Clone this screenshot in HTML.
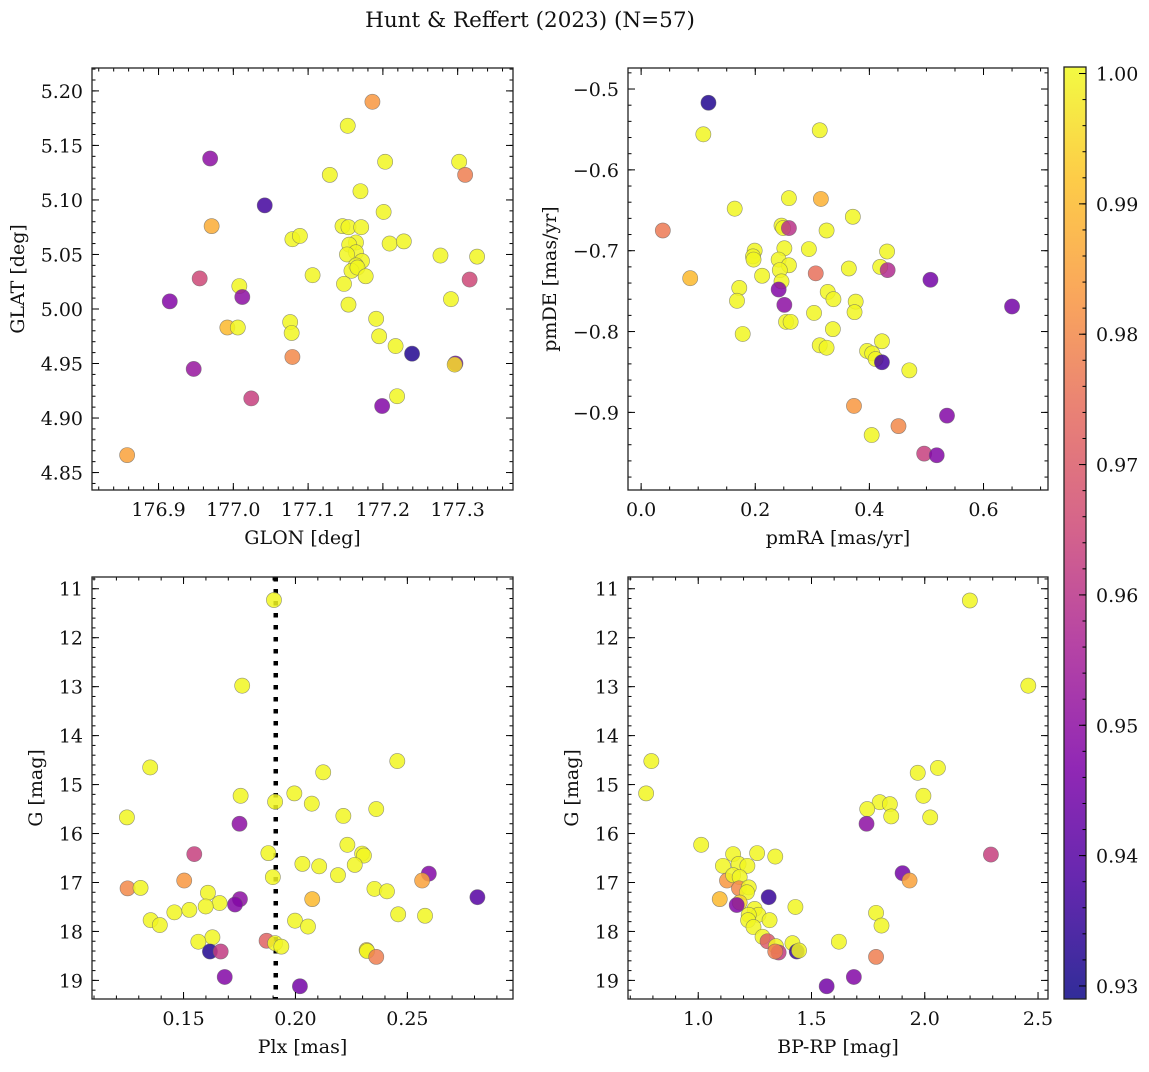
<!DOCTYPE html>
<html><head><meta charset="utf-8"><style>
body{margin:0;background:#fff;}
svg text{font-family:"DejaVu Serif","Liberation Serif",serif;fill:#111;}
</style></head><body>
<svg id="fig" width="1149" height="1067" viewBox="0 0 1149 1067" xmlns="http://www.w3.org/2000/svg">
<defs><linearGradient id="cg" x1="0" y1="1" x2="0" y2="0">
<stop offset="0" stop-color="#0d0887"/><stop offset="0.13" stop-color="#4c02a1"/><stop offset="0.25" stop-color="#7e03a8"/><stop offset="0.38" stop-color="#a92395"/><stop offset="0.5" stop-color="#cc4778"/><stop offset="0.63" stop-color="#e56b5d"/><stop offset="0.75" stop-color="#f89540"/><stop offset="0.88" stop-color="#fdc328"/><stop offset="1" stop-color="#f0f921"/>
</linearGradient></defs>
<text x="530" y="27" font-size="21.5" text-anchor="middle">Hunt &amp; Reffert (2023) (N=57)</text>
</svg>
<script>
// Panel 1: GLON / GLAT
const glon=[177.186,177.153,176.969,177.042,176.971,177.203,177.302,177.310,177.129,177.170,177.201,177.146,177.154,177.171,177.079,177.089,177.164,177.155,177.209,177.228,177.164,177.152,177.172,177.164,177.158,177.166,177.177,177.277,177.326,177.106,176.955,177.148,177.008,177.316,177.012,176.915,177.291,177.154,177.191,177.076,177.078,176.992,177.006,177.195,177.217,177.239,177.297,177.296,177.079,176.947,177.219,177.024,177.199,176.858];
const glat=[5.190,5.168,5.138,5.095,5.076,5.135,5.135,5.123,5.123,5.108,5.089,5.076,5.075,5.075,5.064,5.067,5.061,5.059,5.060,5.062,5.052,5.050,5.044,5.040,5.035,5.038,5.030,5.049,5.048,5.031,5.028,5.023,5.021,5.027,5.011,5.007,5.009,5.004,4.991,4.988,4.978,4.983,4.983,4.975,4.966,4.959,4.950,4.949,4.956,4.945,4.920,4.918,4.911,4.866];
const prob1=[0.983,1,0.95,0.937,0.987,1,1,0.978,1,1,1,1,1,1,1,1,1,1,1,1,1,1,1,1,1,1,1,1,1,1,0.965,1,1,0.965,0.95,0.948,1,1,1,1,1,0.99,1,1,1,0.932,0.945,0.996,0.98,0.952,1,0.963,0.948,0.985];
// Panel 2: pmRA / pmDE
const pmra=[0.118,0.109,0.313,0.164,0.259,0.315,0.038,0.371,0.246,0.249,0.259,0.325,0.199,0.196,0.197,0.251,0.294,0.431,0.241,0.259,0.243,0.364,0.419,0.432,0.306,0.212,0.086,0.507,0.246,0.172,0.241,0.168,0.327,0.337,0.376,0.374,0.251,0.650,0.303,0.254,0.262,0.336,0.178,0.422,0.313,0.325,0.396,0.405,0.411,0.422,0.470,0.373,0.536,0.451,0.404,0.496,0.518];
const pmde=[-0.517,-0.556,-0.551,-0.648,-0.635,-0.636,-0.675,-0.658,-0.669,-0.672,-0.672,-0.675,-0.700,-0.707,-0.711,-0.697,-0.698,-0.701,-0.711,-0.718,-0.724,-0.722,-0.720,-0.724,-0.728,-0.731,-0.734,-0.736,-0.738,-0.746,-0.748,-0.762,-0.751,-0.760,-0.763,-0.776,-0.767,-0.769,-0.777,-0.788,-0.788,-0.797,-0.803,-0.812,-0.817,-0.820,-0.824,-0.827,-0.834,-0.838,-0.848,-0.892,-0.904,-0.917,-0.928,-0.951,-0.953];
const prob2=[0.932,1,1,1,1,0.988,0.977,1,1,1,0.96,1,1,1,1,1,1,1,1,1,1,1,1,0.958,0.975,1,0.99,0.945,1,1,0.948,1,1,1,1,1,0.95,0.945,1,1,1,1,1,1,1,1,1,1,1,0.937,1,0.983,0.948,0.98,1,0.963,0.948];
// Panel 3: Plx / G
const plx=[0.1904,0.1762,0.1351,0.2455,0.2124,0.1755,0.1995,0.1909,0.2073,0.2361,0.1247,0.2214,0.1750,0.2232,0.1879,0.2298,0.2306,0.1548,0.2031,0.2106,0.2265,0.1899,0.2190,0.2596,0.1503,0.2566,0.1250,0.1308,0.2353,0.2409,0.1609,0.2813,0.1752,0.2075,0.1661,0.1730,0.1599,0.1459,0.1526,0.2459,0.2579,0.1353,0.1394,0.1998,0.2056,0.1629,0.1566,0.1871,0.1909,0.1937,0.1618,0.1666,0.2318,0.2320,0.2361,0.1684,0.2020];
const gmag3=[11.23,12.98,14.65,14.52,14.75,15.23,15.18,15.35,15.39,15.50,15.67,15.64,15.80,16.23,16.40,16.41,16.45,16.42,16.62,16.67,16.64,16.89,16.85,16.82,16.96,16.96,17.12,17.11,17.13,17.18,17.21,17.30,17.34,17.34,17.42,17.45,17.49,17.61,17.56,17.65,17.68,17.77,17.87,17.78,17.90,18.12,18.21,18.19,18.24,18.31,18.41,18.41,18.38,18.40,18.52,18.93,19.12];
const prob3=[1,1,1,1,1,1,1,1,1,1,1,1,0.95,1,1,1,1,0.963,1,1,1,1,1,0.948,0.983,0.985,0.98,1,1,1,1,0.94,0.95,0.99,1,0.948,1,1,1,1,1,1,1,1,1,1,1,0.972,1,1,0.932,0.962,0.995,1,0.978,0.948,0.945];
const plxLine=[0.1912];
// Panel 4: BP-RP / G
const bprp=[2.199,2.457,0.793,0.770,2.058,1.969,1.994,1.801,1.846,1.746,2.024,1.852,1.743,1.013,1.154,1.260,1.340,2.292,1.109,1.178,1.217,1.902,1.933,1.127,1.154,1.183,1.180,1.223,1.215,1.311,1.095,1.183,1.170,1.429,1.785,1.249,1.266,1.223,1.220,1.315,1.809,1.244,1.284,1.306,1.621,1.416,1.343,1.435,1.445,1.355,1.340,1.785,1.687,1.567];
const gmag4=[11.24,12.98,14.52,15.18,14.66,14.76,15.23,15.36,15.40,15.50,15.67,15.65,15.80,16.23,16.42,16.40,16.47,16.43,16.66,16.62,16.66,16.81,16.96,16.96,16.85,16.89,17.12,17.10,17.20,17.30,17.34,17.41,17.46,17.50,17.62,17.54,17.66,17.66,17.77,17.77,17.88,17.91,18.11,18.20,18.21,18.24,18.30,18.41,18.39,18.43,18.41,18.52,18.93,19.12];
const prob4=[1,1,1,1,1,1,1,1,1,1,1,1,0.95,1,1,1,1,0.963,1,1,1,0.945,0.985,0.983,1,1,0.98,1,1,0.935,0.99,0.995,0.948,1,1,1,1,1,1,1,1,1,1,0.97,1,1,1,0.935,1,0.962,0.978,0.978,0.948,0.945];
// Colorbar
const cbTicks=[0.93,0.94,0.95,0.96,0.97,0.98,0.99,1.00];
const cbLabels=["0.93","0.94","0.95","0.96","0.97","0.98","0.99","1.00"];
const cbRange=[0.929,1.0005];

const NS="http://www.w3.org/2000/svg";
const svg=document.getElementById('fig');
const FS=19;
function mk(tag,attrs,parent){const e=document.createElementNS(NS,tag);for(const k in attrs)e.setAttribute(k,attrs[k]);(parent||svg).appendChild(e);return e;}
const stops=[[0,[13,8,135]],[0.13,[76,2,161]],[0.25,[126,3,168]],[0.38,[169,35,149]],[0.5,[204,71,120]],[0.63,[229,107,93]],[0.75,[248,149,64]],[0.88,[253,195,40]],[1,[240,249,33]]];
function cmap(v){let t=(v-cbRange[0])/(cbRange[1]-cbRange[0]);t=Math.max(0,Math.min(1,t));
for(let i=0;i<stops.length-1;i++){const a=stops[i],b=stops[i+1];if(t<=b[0]){const f=(t-a[0])/(b[0]-a[0]);return 'rgb('+a[1].map((c,j)=>Math.round(c+(b[1][j]-c)*f)).join(',')+')';}}
return 'rgb(240,249,33)';}

function panel(cfg){
 const g=mk('g',{});
 
 
 const L=cfg.box[0],T=cfg.box[1],W=cfg.box[2],H=cfg.box[3];
 const sx=v=>L+(v-cfg.xr[0])/(cfg.xr[1]-cfg.xr[0])*W;
 const sy=cfg.yinv? (v=>T+(v-cfg.yr[0])/(cfg.yr[1]-cfg.yr[0])*H) : (v=>T+H-(v-cfg.yr[0])/(cfg.yr[1]-cfg.yr[0])*H);
 if(cfg.vline){const ln=mk('line',{x1:sx(cfg.vline),x2:sx(cfg.vline),y1:T,y2:T+H,stroke:'#000','stroke-width':4.5,'stroke-dasharray':'4.5 7.5'},g);
  }
 for(let i=0;i<cfg.x.length;i++){
  const c=mk('circle',{cx:sx(cfg.x[i]),cy:sy(cfg.y[i]),r:7.6,fill:cmap(cfg.p[i]),'fill-opacity':0.85,stroke:'#666','stroke-width':0.6,'stroke-opacity':0.7},g);
  
  
 }
 const tk=mk('g',{stroke:'#000','stroke-width':1},g);
 const eps=1e-9;
 function range(a,b,s){const out=[];let k=Math.ceil((a-eps)/s);for(;k*s<=b+eps;k++)out.push(k*s);return out;}
 const yLo=Math.min(cfg.yr[0],cfg.yr[1]),yHi=Math.max(cfg.yr[0],cfg.yr[1]);
 range(cfg.xr[0],cfg.xr[1],cfg.xminor).forEach(v=>{const x=sx(v);mk('line',{x1:x,x2:x,y1:T+H,y2:T+H-3.5},tk);mk('line',{x1:x,x2:x,y1:T,y2:T+3.5},tk);});
 range(yLo,yHi,cfg.yminor).forEach(v=>{const y=sy(v);mk('line',{x1:L,x2:L+3.5,y1:y,y2:y},tk);mk('line',{x1:L+W,x2:L+W-3.5,y1:y,y2:y},tk);});
 cfg.xt.forEach((v,i)=>{const x=sx(v);mk('line',{x1:x,x2:x,y1:T+H,y2:T+H-7},tk);mk('line',{x1:x,x2:x,y1:T,y2:T+7},tk);
  const t=mk('text',{x:x,y:T+H+26,'font-size':FS,'text-anchor':'middle'},g);t.textContent=cfg.xl[i];
  });
 cfg.yt.forEach((v,i)=>{const y=sy(v);mk('line',{x1:L,x2:L+7,y1:y,y2:y},tk);mk('line',{x1:L+W,x2:L+W-7,y1:y,y2:y},tk);
  const t=mk('text',{x:L-9,y:y+7,'font-size':FS,'text-anchor':'end'},g);t.textContent=cfg.yl[i];
  });
 const fr=mk('rect',{x:L,y:T,width:W,height:H,fill:'none',stroke:'#222','stroke-width':1.3},g);
 
 const xt=mk('text',{x:L+W/2,y:T+H+54,'font-size':FS,'text-anchor':'middle'},g);xt.textContent=cfg.xlabel;
 
 const yx=cfg.ylabx,yy=T+H/2;
 const yt=mk('text',{x:yx,y:yy,'font-size':FS,'text-anchor':'middle',transform:'rotate(-90 '+yx+' '+yy+')'},g);yt.textContent=cfg.ylabel;
 
}

panel({name:'glon-glat-panel',box:[92,68,421,422],xr:[176.811,177.374],yr:[4.834,5.221],x:glon,y:glat,p:prob1,
 xt:[176.9,177.0,177.1,177.2,177.3],xl:["176.9","177.0","177.1","177.2","177.3"],xminor:0.02,
 yt:[4.85,4.90,4.95,5.00,5.05,5.10,5.15,5.20],yl:["4.85","4.90","4.95","5.00","5.05","5.10","5.15","5.20"],yminor:0.01,
 xlabel:'GLON [deg]',ylabel:'GLAT [deg]',ylabx:24});
panel({name:'pm-panel',box:[628,68,420,422],xr:[-0.023,0.713],yr:[-0.996,-0.474],x:pmra,y:pmde,p:prob2,
 xt:[0,0.2,0.4,0.6],xl:["0.0","0.2","0.4","0.6"],xminor:0.05,
 yt:[-0.9,-0.8,-0.7,-0.6,-0.5],yl:["\u22120.9","\u22120.8","\u22120.7","\u22120.6","\u22120.5"],yminor:0.02,
 xlabel:'pmRA [mas/yr]',ylabel:'pmDE [mas/yr]',ylabx:556});
panel({name:'plx-g-panel',box:[92,577,421,422],xr:[0.1091,0.2972],yr:[10.76,19.38],yinv:true,x:plx,y:gmag3,p:prob3,vline:plxLine[0],
 xt:[0.15,0.20,0.25],xl:["0.15","0.20","0.25"],xminor:0.01,
 yt:[11,12,13,14,15,16,17,18,19],yl:["11","12","13","14","15","16","17","18","19"],yminor:0.2,
 xlabel:'Plx [mas]',ylabel:'G [mag]',ylabx:42});
panel({name:'cmd-panel',box:[628,577,420,422],xr:[0.690,2.544],yr:[10.76,19.38],yinv:true,x:bprp,y:gmag4,p:prob4,
 xt:[1.0,1.5,2.0,2.5],xl:["1.0","1.5","2.0","2.5"],xminor:0.1,
 yt:[11,12,13,14,15,16,17,18,19],yl:["11","12","13","14","15","16","17","18","19"],yminor:0.2,
 xlabel:'BP-RP [mag]',ylabel:'G [mag]',ylabx:578});

(function(){
 const L=1064,T=67,W=22,H=932;
 const g=mk('g',{});
 
 
 const r=mk('rect',{x:L,y:T,width:W,height:H,fill:'url(#cg)','fill-opacity':0.85,stroke:'#222','stroke-width':1.3},g);
 
 const sy=v=>T+H-(v-cbRange[0])/(cbRange[1]-cbRange[0])*H;
 for(let k=Math.ceil(cbRange[0]/0.002-1e-6);k*0.002<=cbRange[1]+1e-9;k++){const y=sy(k*0.002);mk('line',{x1:L+W,x2:L+W-3.5,y1:y,y2:y,stroke:'#000'},g);}
 cbTicks.forEach((v,i)=>{const y=sy(v);mk('line',{x1:L+W,x2:L+W-7,y1:y,y2:y,stroke:'#000'},g);
  const t=mk('text',{x:L+W+10,y:y+7,'font-size':FS},g);t.textContent=cbLabels[i];
  });
})();
</script>
</body></html>
